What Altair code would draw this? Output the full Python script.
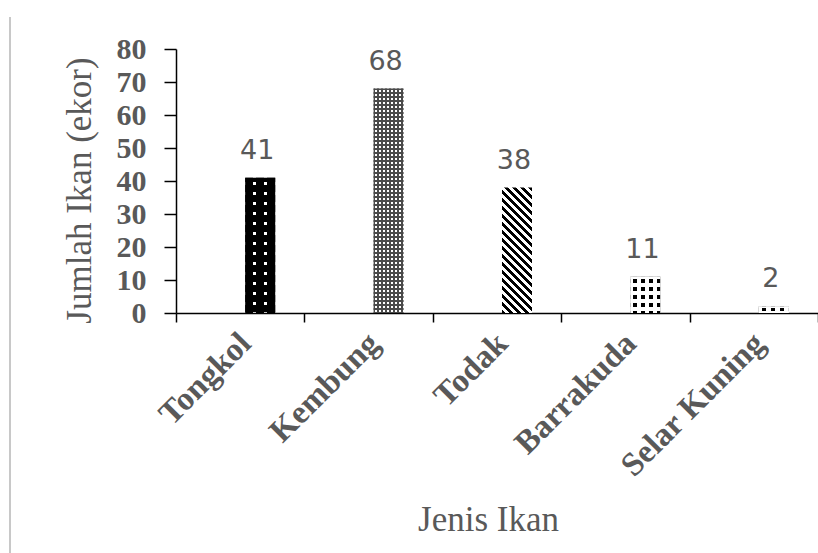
import altair as alt
import pandas as pd

# Catch per fish species
species = ["Tongkol", "Kembung", "Todak", "Barrakuda", "Selar Kuning"]
counts = [41, 68, 38, 11, 2]

df = pd.DataFrame({"jenis": species, "jumlah": counts})

W, H = 642, 264
YMAX = 80
BAR_W = 30
BAR_SHIFT = 20
GRAY = "#595959"
CLEAR = "rgba(255,255,255,0)"


def bar_px(v):
    return v / YMAX * H


def solid_with_holes(color, holes):
    """Stops for a solid colour that is punched through by transparent bands."""
    stops = [{"offset": 0, "color": color}]
    for a, b in holes:
        a, b = max(0.0, a), min(1.0, b)
        if b <= a:
            continue
        stops += [
            {"offset": a, "color": color},
            {"offset": a, "color": CLEAR},
            {"offset": b, "color": CLEAR},
            {"offset": b, "color": color},
        ]
    stops.append({"offset": 1, "color": color})
    return stops


def holes(length_px, period_px, hole_px, start_px):
    out = []
    p = start_px
    while p < length_px:
        out.append((p / length_px, (p + hole_px) / length_px))
        p += period_px
    return out


def across(color, length_px, period, hole, start):
    # bands running vertically (varies along x)
    return {"gradient": "linear", "x1": 0, "y1": 0, "x2": 1, "y2": 0,
            "stops": solid_with_holes(color, holes(length_px, period, hole, start))}


def down(color, length_px, period, hole, start):
    # bands running horizontally (varies along y)
    return {"gradient": "linear", "x1": 0, "y1": 0, "x2": 0, "y2": 1,
            "stops": solid_with_holes(color, holes(length_px, period, hole, start))}


def diagonal(w, h, period):
    # "\" stripes at 45 degrees: t = (y - x + w) / (h + w)
    a = -w / (h + w)
    b = h / (h + w)
    n2 = a * a + b * b
    dx, dy = a / n2, b / n2
    n = (h + w) / period
    stops = []
    k = 0
    while k < n:
        s0, s1, s2 = k / n, (k + 0.5) / n, (k + 1) / n
        s1, s2 = min(s1, 1.0), min(s2, 1.0)
        stops += [
            {"offset": s0, "color": "#000000"},
            {"offset": s1, "color": "#000000"},
            {"offset": s1, "color": "#ffffff"},
            {"offset": s2, "color": "#ffffff"},
        ]
        k += 1
    return {"gradient": "linear", "x1": 1, "y1": 0, "x2": 1 + dx, "y2": dy,
            "stops": stops}


x_axis = alt.Axis(
    title="Jenis Ikan",
    titleFont="Liberation Serif", titleFontSize=35, titleFontWeight="normal",
    titleColor=GRAY, titleX=312, titleY=217, titleBaseline="alphabetic",
    labelFont="Liberation Serif", labelFontWeight="bold", labelFontSize=33,
    labelColor=GRAY, labelAngle=-45, labelAlign="right", labelBaseline="middle",
    labelPadding=16, labelOffset=5, labelLimit=500, tickBand="extent",
    tickSize=9, tickColor="#000000", tickWidth=1.5, domainColor="#000000",
    domainWidth=1.5, grid=False,
)
y_axis = alt.Axis(
    title="Jumlah Ikan (ekor)",
    titleFont="Liberation Serif", titleFontSize=35, titleFontWeight="normal",
    titleColor=GRAY, titleAngle=-90, titleX=-86, titleY=141,
    titleAlign="center", titleBaseline="alphabetic",
    values=list(range(0, 81, 10)),
    labelFont="Liberation Serif", labelFontWeight="bold", labelFontSize=30,
    labelColor=GRAY, labelPadding=18, tickSize=12, tickColor="#000000",
    tickWidth=1.5, domainColor="#000000", domainWidth=1.5, grid=False,
)

x_scale = alt.Scale(domain=species, paddingInner=0, paddingOuter=0)
y_scale = alt.Scale(domain=[0, YMAX])

x_enc = alt.X("jenis:N", scale=x_scale, axis=x_axis)
y_enc = alt.Y("jumlah:Q", scale=y_scale, axis=y_axis)


def bar_layer(name, fill):
    return (
        alt.Chart(df)
        .transform_filter(alt.datum.jenis == name)
        .mark_bar(fill=fill, width=BAR_W, xOffset=BAR_SHIFT)
        .encode(x=x_enc, y=y_enc)
    )


hgt = dict(zip(species, [bar_px(v) for v in counts]))

layers = [
    # Tongkol: white dots on black
    bar_layer("Tongkol", across("#000000", BAR_W, 11, 3, 8)),
    bar_layer("Tongkol", down("#000000", hgt["Tongkol"], 10, 3, 4)),
    # Kembung: fine white dots on grey
    bar_layer("Kembung", across("#4a4a4a", BAR_W, 4, 2, 1)),
    bar_layer("Kembung", down("#4a4a4a", hgt["Kembung"], 4, 2, 1)),
    # Todak: diagonal hatching
    bar_layer("Todak", diagonal(BAR_W, hgt["Todak"], 8)),
    # Barrakuda and Selar Kuning: black dots on white
    bar_layer("Barrakuda", "#000000"),
    bar_layer("Barrakuda", across("#ffffff", BAR_W, 8, 4, 3)),
    bar_layer("Barrakuda", down("#ffffff", hgt["Barrakuda"], 8, 4, 2)),
    bar_layer("Selar Kuning", "#000000"),
    bar_layer("Selar Kuning", across("#ffffff", BAR_W, 9, 4, 3)),
    bar_layer("Selar Kuning", down("#ffffff", hgt["Selar Kuning"], 7, 3, 2)),
]

labels = (
    alt.Chart(df)
    .mark_text(font="DejaVu Sans", fontSize=27, color=GRAY, baseline="bottom",
               dx=BAR_SHIFT - 3, dy=-13)
    .encode(x=x_enc, y=y_enc, text=alt.Text("jumlah:Q"))
)

frame = (
    alt.Chart(pd.DataFrame({"k": [0]}))
    .mark_rule(color="#c8c8c8", strokeWidth=2)
    .encode(x=alt.value(-166), y=alt.value(-32), y2=alt.value(504))
)

chart = (
    alt.layer(*layers, labels, frame)
    .properties(
        width=W, height=H,
        autosize=alt.AutoSizeParams(type="none"),
        padding={"left": 176, "top": 49, "right": 0, "bottom": 240},
        background="#ffffff",
    )
    .configure_view(stroke=None)
)

chart.save("out.html", embed_options={"renderer": "svg", "actions": False})
